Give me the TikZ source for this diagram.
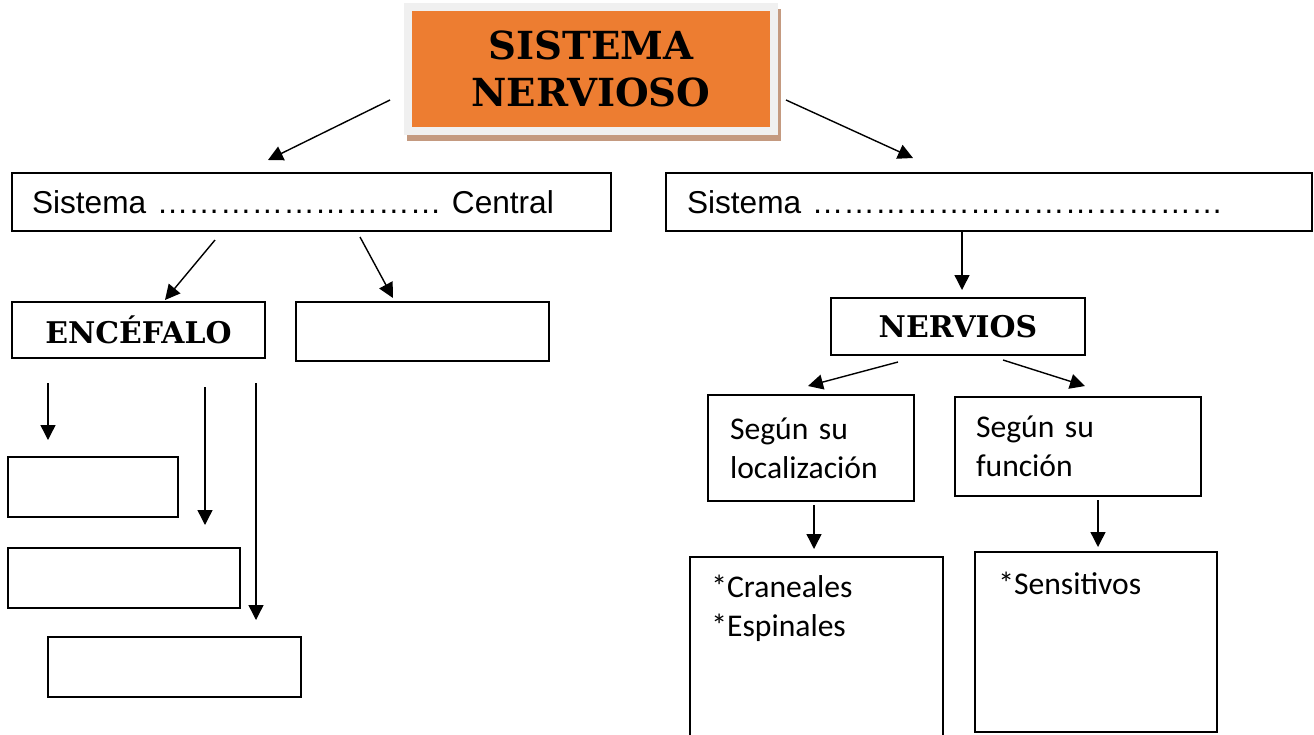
\documentclass[tikz,border=0pt]{standalone}
\usepackage{fontspec}
\usepackage{tikz}
\usetikzlibrary{positioning}
\usetikzlibrary{calc}
\usetikzlibrary{arrows.meta, shadows}
\newfontfamily\arialf{Liberation Sans}
\newfontfamily\calibrif{Carlito}
\newfontfamily\cooperf{DejaVu Serif}
\definecolor{naranja}{HTML}{ED7D31}
\definecolor{marco}{HTML}{F0F0F0}
\definecolor{sombra}{HTML}{C49A80}
\newcommand{\pix}{0.02cm}
\newcommand{\pp}{…}
\tikzset{
	flecha/.style={-{Triangle[length=0.3cm,width=0.3cm]}, line width=0.8pt},
	caja/.style={draw, line width=1.1pt, anchor=north west, inner sep=0pt, outer sep=0pt},
	txtA/.style={font=\arialf\fontsize{18}{21.6}\selectfont},
	txtC/.style={font=\calibrif\fontsize{18}{22}\selectfont},
	txtT/.style={font=\cooperf\bfseries\fontsize{17}{20}\selectfont}
}

\begin{document}
\begin{tikzpicture}[x=0.02cm, y=-0.02cm]
	\useasboundingbox (0,0) rectangle (1314,734);
	% Title
	\node (titulo) [fill=naranja, draw=marco, line width=0.16cm,
		minimum width=366*\pix, minimum height=124*\pix, align=center,
		general shadow={draw=sombra, fill=sombra, shadow xshift=0.06cm, shadow yshift=-0.12cm},
		font=\cooperf\bfseries\fontsize{22}{26.5}\selectfont] at (591,69) {SISTEMA\\NERVIOSO};
	
	% left side
	\node (sc) [caja, minimum width=599*\pix, minimum height=58*\pix, inner xsep=20*\pix,
		text width=559*\pix, align=left, txtA] at (12,173) {Sistema \pp\pp\pp\pp\pp\pp\pp\pp\pp{} Central};
	\node (enc) [caja, minimum width=253*\pix, minimum height=56*\pix, txtT] at (12,302) {ENCÉFALO};
	\node (vac) [caja, minimum width=253*\pix, minimum height=59*\pix] at (296,302) {};
	\node (b1) [caja, minimum width=170*\pix, minimum height=60*\pix] at (8,457) {};
	\node (b2) [caja, minimum width=232*\pix, minimum height=60*\pix] at (8,548) {};
	\node (b3) [caja, minimum width=253*\pix, minimum height=60*\pix] at (48,637) {};
	
	% right side
	\node (sp) [caja, minimum width=646*\pix, minimum height=58*\pix, inner xsep=21*\pix,
		text width=604*\pix, align=left, txtA] at (666,173) {Sistema \pp\pp\pp\pp\pp\pp\pp\pp\pp\pp\pp\pp\pp};
	\node (nerv) [caja, minimum width=254*\pix, minimum height=57*\pix, txtT] at (831,298) {NERVIOS};
	\node (loc) [caja, minimum width=206*\pix, minimum height=106*\pix, inner xsep=22*\pix,
		text width=162*\pix, align=left, txtC] at (708,395) {Según su\\localización};
	\node (fun) [caja, minimum width=246*\pix, minimum height=99*\pix, inner xsep=21*\pix,
		text width=204*\pix, align=left, txtC] at (955,397) {Según su\\función};
	\node (cra) [caja, minimum width=253*\pix, minimum height=200*\pix,
		label={[anchor=north west, inner sep=0pt, align=left, txtC, xshift=21*\pix, yshift=-18*\pix]north west:*Craneales\\*Espinales}] at (690,557) {};
	\node (sen) [caja, minimum width=242*\pix, minimum height=180*\pix,
		label={[anchor=north west, inner sep=0pt, align=left, txtC, xshift=23*\pix, yshift=-20*\pix]north west:*Sensitivos}] at (975,552) {};
	
	\draw[flecha] ($(titulo.west)+(-14,31)$) -- ($(sc.north west)+(256,-13)$);
	\draw[flecha] ($(titulo.east)+(8,31)$) -- ($(sp.north west)+(247,-15)$);
	\draw[flecha] ($(sc.south west)+(203,9)$) -- ($(enc.north west)+(153,-2)$);
	\draw[flecha] ($(sc.south west)+(348,6)$) -- ($(vac.north west)+(97,-4)$);
	\draw[flecha] ($(enc.south west)+(36,25)$) -- ($(b1.north west)+(40,-17)$);
	\draw[flecha] ($(enc.south west)+(193,29)$) -- ($(b2.north west)+(197,-23)$);
	\draw[flecha] ($(enc.south west)+(244,25)$) -- ($(b3.north west)+(208,-17)$);
	\draw[flecha] ($(sp.south west)+(296,0)$) -- ($(nerv.north west)+(131,-8)$);
	\draw[flecha] ($(nerv.south west)+(67,7)$) -- ($(loc.north west)+(100,-9)$);
	\draw[flecha] ($(nerv.south west)+(172,5)$) -- ($(fun.north west)+(130,-11)$);
	\draw[flecha] ($(loc.south west)+(106,4)$) -- ($(cra.north west)+(124,-8)$);
	\draw[flecha] ($(fun.south west)+(143,4)$) -- ($(sen.north west)+(123,-5)$);
	
\end{tikzpicture}
\end{document}
